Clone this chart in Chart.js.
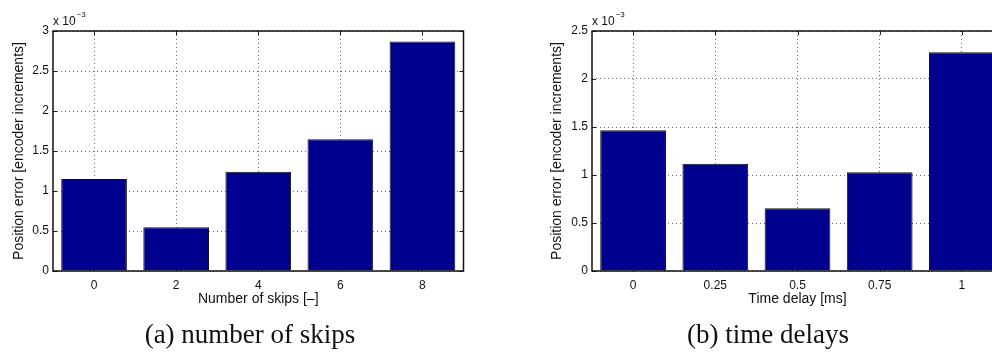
<!DOCTYPE html>
<html>
<head>
<meta charset="utf-8">
<script src="https://cdn.jsdelivr.net/npm/chart.js@4.4.0/dist/chart.umd.min.js"></script>
<style>
html, body { margin: 0; padding: 0; background: #fff; width: 992px; height: 354px; overflow: hidden; position: relative; }
canvas { position: absolute; top: 0; }
#c1 { left: 0; }
#c2 { left: 500px; }
.cap { position: absolute; font-family: "Liberation Serif", serif; font-size: 27px; line-height: 30px; color: #111; white-space: nowrap; transform: translateX(-50%); }
</style>
</head>
<body>
<canvas id="c1" width="480" height="320"></canvas>
<canvas id="c2" width="520" height="320"></canvas>
<div class="cap" style="left:250px; top:319px;">(a) number of skips</div>
<div class="cap" style="left:768px; top:319px;">(b) time delays</div>
<script>
// values are in units of 10^-3 encoder increments
const skipLabels = ['0', '2', '4', '6', '8']
const skipErr = [1.15, 0.546, 1.24, 1.646, 2.87]
const skipTicks = [0, 0.5, 1, 1.5, 2, 2.5, 3]

const delayLabels = ['0', '0.25', '0.5', '0.75', '1']
const delayErr = [1.466, 1.118, 0.653, 1.028, 2.278]
const delayTicks = [0, 0.5, 1, 1.5, 2, 2.5]

const yTitle = 'Position error [encoder increments]'
const tickFont = { family: '"Liberation Sans", Arial, sans-serif', size: 12 }
const titleFont = { family: '"Liberation Sans", Arial, sans-serif', size: 14 }

// matlab style: inward tick marks, closed box, "x 10^-3" multiplier
const matlabAxes = {
    id: 'matlabAxes',
    beforeDatasetsDraw(chart) {
        let ctx = chart.ctx
        let a = chart.chartArea
        let x = chart.scales.x, y = chart.scales.y
        ctx.save()
        ctx.strokeStyle = '#222'
        ctx.lineWidth = 1
        ctx.beginPath()
        y.ticks.forEach((t) => {
            let py = Math.round(y.getPixelForValue(t.value)) + 0.5
            ctx.moveTo(a.left, py); ctx.lineTo(a.left + 4, py)
            ctx.moveTo(a.right, py); ctx.lineTo(a.right - 4, py)
        })
        x.ticks.forEach((t, i) => {
            let px = Math.round(x.getPixelForTick(i)) + 0.5
            ctx.moveTo(px, a.top); ctx.lineTo(px, a.top + 4)
            ctx.moveTo(px, a.bottom); ctx.lineTo(px, a.bottom - 4)
        })
        ctx.stroke()
        ctx.restore()
    },
    afterDraw(chart) {
        let ctx = chart.ctx
        let a = chart.chartArea
        ctx.save()
        ctx.strokeStyle = '#111'
        ctx.lineWidth = 1.5
        ctx.strokeRect(a.left, a.top, a.right - a.left, a.bottom - a.top)
        ctx.fillStyle = '#111'
        ctx.textBaseline = 'alphabetic'
        ctx.font = '12px "Liberation Sans", Arial, sans-serif'
        ctx.fillText('x 10', a.left, a.top - 6)
        let w = ctx.measureText('x 10').width
        ctx.font = '8px "Liberation Sans", Arial, sans-serif'
        ctx.fillText('\u22123', a.left + w + 1, a.top - 14)
        ctx.restore()
    }
}

function makeChart(id, labels, values, yTicks, xTitle, axisW, titlePad, rightPad) {
    new Chart(document.getElementById(id), {
        type: 'bar',
        data: {
            labels: labels,
            datasets: [{
                data: values,
                backgroundColor: '#00008f',
                borderColor: '#111',
                borderWidth: 1,
                barPercentage: 0.8,
                categoryPercentage: 1
            }]
        },
        options: {
            responsive: false,
            animation: false,
            devicePixelRatio: 1,
            layout: { padding: { top: 31, right: rightPad, left: 0, bottom: 0 } },
            plugins: { legend: { display: false }, tooltip: { enabled: false } },
            scales: {
                x: {
                    offset: true,
                    grid: { offset: false, color: '#6a6a6a', lineWidth: 1, drawTicks: false },
                    border: { display: false, dash: [1, 3] },
                    ticks: { font: tickFont, color: '#111', padding: 7, maxRotation: 0, autoSkip: false },
                    title: { display: true, text: xTitle, font: titleFont, color: '#111', padding: { top: 0, bottom: 12 } },
                    afterFit: (s) => { s.height = 49 }
                },
                y: {
                    min: 0,
                    max: yTicks[yTicks.length - 1],
                    afterBuildTicks: (s) => { s.ticks = yTicks.map((v) => ({ value: v })) },
                    grid: { color: '#6a6a6a', lineWidth: 1, drawTicks: false },
                    border: { display: false, dash: [1, 3] },
                    ticks: { font: tickFont, color: '#111', padding: 4, callback: (v) => String(v) },
                    title: { display: true, text: yTitle, font: titleFont, color: '#111', padding: { top: titlePad, bottom: 0 } },
                    afterFit: (s) => { s.width = axisW }
                }
            }
        },
        plugins: [matlabAxes]
    })
}

makeChart('c1', skipLabels, skipErr, skipTicks, 'Number of skips [\u2013]', 53, 10.6, 16.5)
makeChart('c2', delayLabels, delayErr, delayTicks, 'Time delay [ms]', 92, 48.6, 17)
</script>
</body>
</html>
